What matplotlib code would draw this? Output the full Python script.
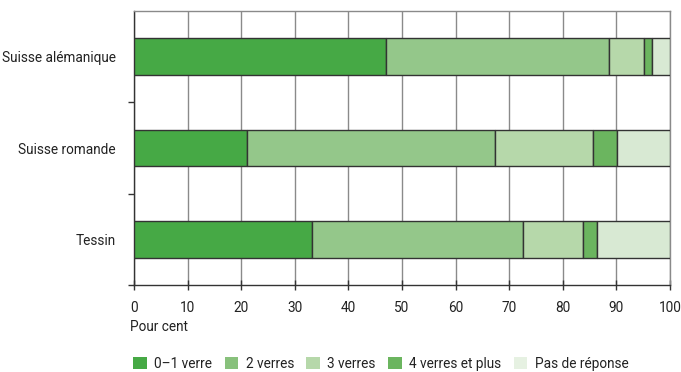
import matplotlib.pyplot as plt
import numpy as np
from matplotlib.patches import Patch

plt.rcParams['font.family'] = ['Roboto', 'DejaVu Sans']

regions = ['Suisse alémanique', 'Suisse romande', 'Tessin']
series = ['0–1 verre', '2 verres', '3 verres', '4 verres et plus', 'Pas de réponse']
verre_0_1 = [47.1, 21.1, 33.3]
verres_2 = [41.5, 46.2, 39.2]
verres_3 = [6.5, 18.4, 11.2]
verres_4_plus = [1.5, 4.4, 2.7]
pas_de_reponse = [3.4, 9.9, 13.6]
colors = ['#46a945', '#94c78a', '#b6d8aa', '#6bb55f', '#d8e9d3']
legend_colors = ['#46a945', '#88c17c', '#b6d8aa', '#6bb55f', '#e6f1e2']

values = [verre_0_1, verres_2, verres_3, verres_4_plus, pas_de_reponse]

fig = plt.figure(figsize=(6.81, 3.72), dpi=100)
ax = fig.add_axes([134 / 681, 1 - 285 / 372, 536 / 681, 274 / 372])

y = np.arange(len(regions))
left = np.zeros(len(regions))
for vals, col in zip(values, colors):
    ax.barh(y, vals, left=left, height=0.4, color=col, edgecolor='#333333',
            linewidth=1.0, zorder=3)
    left += np.array(vals)

ax.set_xlim(0, 100)
ax.set_ylim(2.5, -0.5)
ax.set_xticks(np.arange(0, 101, 10))
ax.xaxis.grid(True, color='#8a8a8a', linewidth=1.0, zorder=0)
ax.set_axisbelow(True)

fs = 9.8
ax.set_yticks(y)
ax.set_yticklabels(regions, fontsize=fs, color='#222222')
ax.set_yticks([0.5, 1.5, 2.5], minor=True)
ax.tick_params(axis='y', which='major', length=0, pad=13)
ax.tick_params(axis='y', which='minor', length=4, width=1, color='#333333')
ax.tick_params(axis='x', which='major', direction='inout', length=7, width=1,
               color='#333333', labelsize=fs, labelcolor='#222222', pad=8)

for s in ['top', 'right']:
    ax.spines[s].set_color('#8a8a8a')
    ax.spines[s].set_linewidth(1.0)
for s in ['left', 'bottom']:
    ax.spines[s].set_color('#333333')
    ax.spines[s].set_linewidth(1.0)

fig.text(130 / 681, 1 - 327 / 372, 'Pour cent', fontsize=fs, color='#222222',
         ha='left', va='center')

handles = [Patch(facecolor=c, edgecolor='none') for c in legend_colors]
fig.legend(handles, series, loc='center left', bbox_to_anchor=(121 / 681, 1 - 364 / 372),
           ncol=5, frameon=False, fontsize=fs, handlelength=1.0, handleheight=1.0,
           handletextpad=0.55, columnspacing=0.9, labelcolor='#222222')

fig.savefig('out.png', dpi=100)
